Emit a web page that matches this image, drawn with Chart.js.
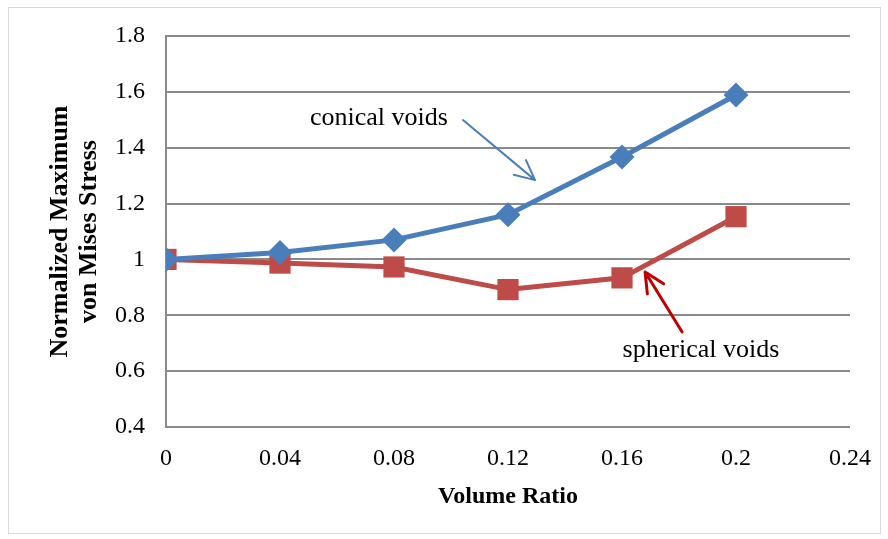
<!DOCTYPE html>
<html>
<head>
<meta charset="utf-8">
<style>
  html, body { margin: 0; padding: 0; background: #fff; }
  #wrap { position: relative; width: 888px; height: 539px; }
</style>
<script src="https://cdn.jsdelivr.net/npm/chart.js@4/dist/chart.umd.min.js"></script>
</head>
<body>
<div id="wrap"><canvas id="chart" width="888" height="539"></canvas></div>
<script>
// Data
const volumeRatio = [0, 0.04, 0.08, 0.12, 0.16, 0.2];
const conicalVoids = [1.0, 1.025, 1.07, 1.16, 1.367, 1.589];
const sphericalVoids = [1.0, 0.987, 0.973, 0.892, 0.934, 1.153];
const xTicks = [0, 0.04, 0.08, 0.12, 0.16, 0.2, 0.24];
const yTicks = [0.4, 0.6, 0.8, 1, 1.2, 1.4, 1.6, 1.8];

// callouts, in data units
const callouts = [
  { text: "conical voids", x: 0.0747, y: 1.506, from: [0.1042, 1.499], to: [0.1295, 1.284], color: "#4a7ebb", width: 2 },
  { text: "spherical voids", x: 0.1877, y: 0.676, from: [0.1811, 0.740], to: [0.1681, 0.955], color: "#c00000", width: 3 }
];

const serif = "'Liberation Serif', 'Times New Roman', serif";

function drawArrow(ctx, x1, y1, x2, y2, color, width) {
  const ang = Math.atan2(y2 - y1, x2 - x1);
  const len = 22, spread = Math.PI / 7;
  ctx.save();
  ctx.strokeStyle = color;
  ctx.lineWidth = width;
  ctx.lineCap = "round";
  ctx.lineJoin = "round";
  ctx.beginPath();
  ctx.moveTo(x1, y1);
  ctx.lineTo(x2, y2);
  ctx.moveTo(x2 - len * Math.cos(ang - spread), y2 - len * Math.sin(ang - spread));
  ctx.lineTo(x2, y2);
  ctx.lineTo(x2 - len * Math.cos(ang + spread), y2 - len * Math.sin(ang + spread));
  ctx.stroke();
  ctx.restore();
}

const calloutPlugin = {
  id: "callouts",
  beforeDraw(chart) {
    const ctx = chart.ctx;
    ctx.save();
    ctx.fillStyle = "#fff";
    ctx.fillRect(0, 0, chart.width, chart.height);
    ctx.strokeStyle = "#d9d9d9";
    ctx.lineWidth = 1;
    ctx.strokeRect(8.5, 7.5, 872, 526);
    ctx.restore();
  },
  afterDatasetsDraw(chart) {
    const ctx = chart.ctx;
    const xs = chart.scales.x, ys = chart.scales.y;
    callouts.forEach((c) => {
      ctx.save();
      ctx.font = "26px " + serif;
      ctx.fillStyle = "#000";
      ctx.textAlign = "center";
      ctx.textBaseline = "middle";
      ctx.fillText(c.text, xs.getPixelForValue(c.x), ys.getPixelForValue(c.y));
      ctx.restore();
      drawArrow(ctx,
        xs.getPixelForValue(c.from[0]), ys.getPixelForValue(c.from[1]),
        xs.getPixelForValue(c.to[0]), ys.getPixelForValue(c.to[1]),
        c.color, c.width);
    });
  }
};

new Chart(document.getElementById("chart"), {
  type: "line",
  data: {
    datasets: [
      {
        label: "conical voids",
        data: volumeRatio.map((v, i) => ({ x: v, y: conicalVoids[i] })),
        borderColor: "#4a7ebb",
        backgroundColor: "#4a7ebb",
        borderWidth: 5,
        pointStyle: "rectRot",
        pointRadius: 12.5,
        pointBorderWidth: 0,
        tension: 0
      },
      {
        label: "spherical voids",
        data: volumeRatio.map((v, i) => ({ x: v, y: sphericalVoids[i] })),
        borderColor: "#be4b48",
        backgroundColor: "#be4b48",
        borderWidth: 5,
        pointStyle: "rect",
        pointRadius: 15,
        pointBorderWidth: 0,
        tension: 0
      }
    ]
  },
  options: {
    responsive: false,
    animation: false,
    layout: { padding: { left: 46, top: 36, right: 38, bottom: 28 } },
    plugins: { legend: { display: false }, tooltip: { enabled: false } },
    scales: {
      x: {
        type: "linear",
        min: 0,
        max: 0.24,
        afterBuildTicks: (s) => { s.ticks = xTicks.map((v) => ({ value: v })); },
        afterFit: (s) => { s.height = 539 - 28 - 427; },
        grid: { display: false, drawTicks: false },
        border: { display: false },
        ticks: {
          color: "#000",
          padding: 17,
          font: { family: serif, size: 24 },
          callback: (v) => String(+v.toFixed(2))
        },
        title: {
          display: true,
          text: "Volume Ratio",
          color: "#000",
          padding: { top: 0, bottom: 0 },
          font: { family: serif, size: 24, weight: "bold" }
        }
      },
      y: {
        min: 0.4,
        max: 1.8,
        afterBuildTicks: (s) => { s.ticks = yTicks.map((v) => ({ value: v })); },
        afterFit: (s) => { s.width = 166 - 46; },
        grid: { color: "#8a8a8a", lineWidth: 2, drawTicks: false },
        border: { display: true, color: "#8a8a8a", width: 2 },
        ticks: {
          color: "#000",
          padding: 21,
          font: { family: serif, size: 24 },
          callback: (v) => String(+v.toFixed(1))
        },
        title: {
          display: true,
          text: ["Normalized Maximum", "von Mises Stress"],
          color: "#000",
          padding: { top: 0, bottom: 0 },
          font: { family: serif, size: 26, weight: "bold", lineHeight: 1.1 }
        }
      }
    }
  },
  plugins: [calloutPlugin]
});
</script>
</body>
</html>
